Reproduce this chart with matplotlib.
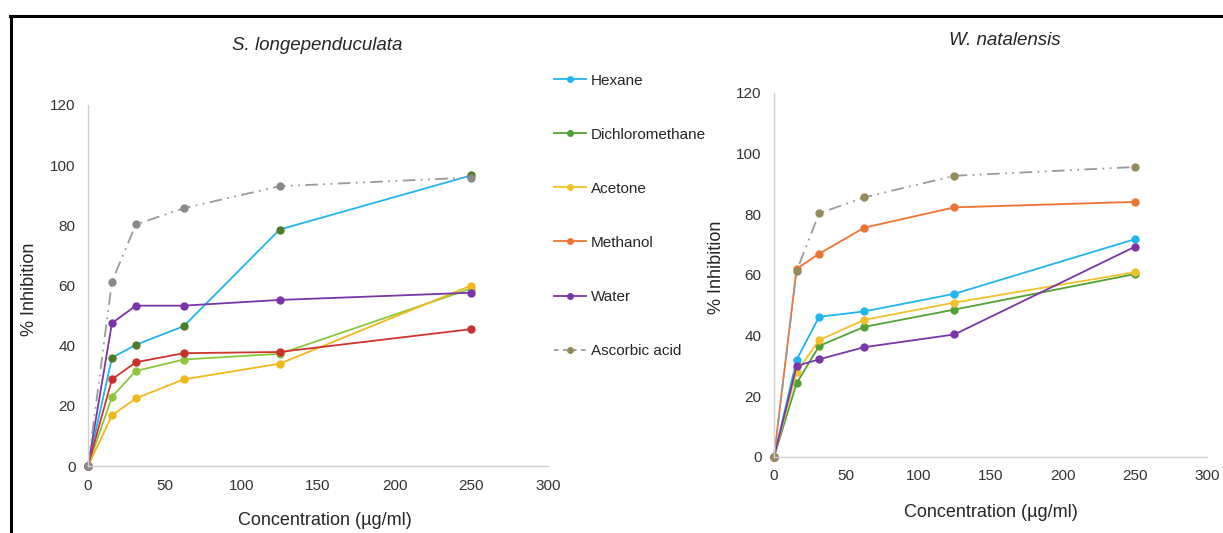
import matplotlib
matplotlib.use("Agg")
import matplotlib.pyplot as plt
from matplotlib.lines import Line2D

plt.rcParams['font.family'] = ['Liberation Sans', 'DejaVu Sans']

conc = [0, 15.625, 31.25, 62.5, 125, 250]
names = ["Hexane", "Dichloromethane", "Acetone", "Methanol", "Water", "Ascorbic acid"]

# S. longependuculata
sl_hexane = [0, 36, 40.3, 46.5, 78.6, 96.6]
sl_dcm = [0, 23, 31.6, 35.4, 37.3, 59]
sl_acetone = [0, 16.8, 22.5, 28.8, 34, 60]
sl_methanol = [0, 28.8, 34.5, 37.5, 37.9, 45.5]
sl_water = [0, 47.5, 53.3, 53.3, 55.2, 57.6]
sl_ascorbic = [0, 61.3, 80.3, 85.7, 93, 95.9]

# W. natalensis
wn_hexane = [0, 32, 46.2, 48, 53.8, 71.8]
wn_dcm = [0, 24.3, 36.6, 42.9, 48.6, 60.3]
wn_acetone = [0, 28, 38.5, 45.2, 50.9, 60.9]
wn_methanol = [0, 62, 67, 75.6, 82.3, 84.1]
wn_water = [0, 30, 32.2, 36.2, 40.4, 69.3]
wn_ascorbic = [0, 61.3, 80.3, 85.6, 92.7, 95.6]

dashdot2 = (0, (7, 3, 1, 3, 1, 3))

# (line colour, marker colour) per series
sl_colors = [("#1fb5ee", "#4e7a2a"), ("#8cc63f", "#8cc63f"), ("#f1b81c", "#f1b81c"),
             ("#d0342c", "#c8302a"), ("#7a35a8", "#7a35a8"), ("#9a9a9a", "#8a8a8a")]
wn_colors = [("#1fb5ee", "#1fb5ee"), ("#4fa233", "#4fa233"), ("#f1c02a", "#f1c02a"),
             ("#ef7433", "#ef7433"), ("#7a35a8", "#7a35a8"), ("#9a9a9a", "#948a5a")]

W, H = 1223, 533
fig = plt.figure(figsize=(W / 100, H / 100), dpi=100)


def px_axes(x0, x1, ytop, ybot):
    return fig.add_axes([x0 / W, 1 - ybot / H, (x1 - x0) / W, (ybot - ytop) / H])


def draw(ax, series, colors, title, tx, ty):
    for vals, (lc, mc), name in zip(series, colors, names):
        ls = dashdot2 if name == "Ascorbic acid" else "-"
        ax.plot(conc, vals, color=lc, linestyle=ls, linewidth=1.3,
                marker="o", markersize=5, markerfacecolor=mc, markeredgecolor=mc,
                label=name, clip_on=False)
    ax.set_xlim(0, 300)
    ax.set_ylim(0, 120)
    ax.set_xticks(range(0, 301, 50))
    ax.set_yticks(range(0, 121, 20))
    for s in ["top", "right"]:
        ax.spines[s].set_visible(False)
    for s in ["left", "bottom"]:
        ax.spines[s].set_color("#d0d0d0")
        ax.spines[s].set_linewidth(1)
    ax.tick_params(length=0, labelsize=11, colors="#333333", pad=9)
    ax.set_xlabel("Concentration (µg/ml)", fontsize=13, color="#262626")
    ax.set_ylabel("% Inhibition", fontsize=13, color="#262626")
    ax.text(tx, ty, title, transform=ax.transAxes, fontsize=13.5, style="italic",
            ha="center", va="center", color="#262626")


ax1 = px_axes(88, 548, 105, 466)
draw(ax1, [sl_hexane, sl_dcm, sl_acetone, sl_methanol, sl_water, sl_ascorbic],
     sl_colors, "S. longependuculata", 0.498, 1.165)
ax1.xaxis.set_label_coords(0.515, -0.128)
ax1.yaxis.set_label_coords(-0.109, 0.49)

ax2 = px_axes(774, 1207, 93, 457)
draw(ax2, [wn_hexane, wn_dcm, wn_acetone, wn_methanol, wn_water, wn_ascorbic],
     wn_colors, "W. natalensis", 0.534, 1.143)
ax2.xaxis.set_label_coords(0.5, -0.128)
ax2.yaxis.set_label_coords(-0.113, 0.52)

# legend handles (ascorbic shown as short dashes around the marker)
handles = []
for (lc, mc), name in zip(wn_colors, names):
    ls = (0, (2.5, 2.5)) if name == "Ascorbic acid" else "-"
    handles.append(Line2D([], [], color=lc, linestyle=ls, linewidth=1.3, marker="o",
                          markersize=4, markerfacecolor=mc, markeredgecolor=mc))
leg = fig.legend(handles, names, loc="upper left", bbox_to_anchor=(540 / W, 1 - 60 / H),
                 frameon=False, fontsize=11, labelspacing=2.62, handlelength=2.1,
                 handletextpad=0.35)
for t in leg.get_texts():
    t.set_color("#262626")

# outer frame
fig.add_artist(Line2D([10 / W, 1], [1 - 16 / H, 1 - 16 / H], color="black", linewidth=2.2,
                      transform=fig.transFigure))
fig.add_artist(Line2D([11 / W, 11 / W], [1 - 16 / H, 0], color="black", linewidth=2.2,
                      transform=fig.transFigure))

fig.savefig("out.png", dpi=100)
